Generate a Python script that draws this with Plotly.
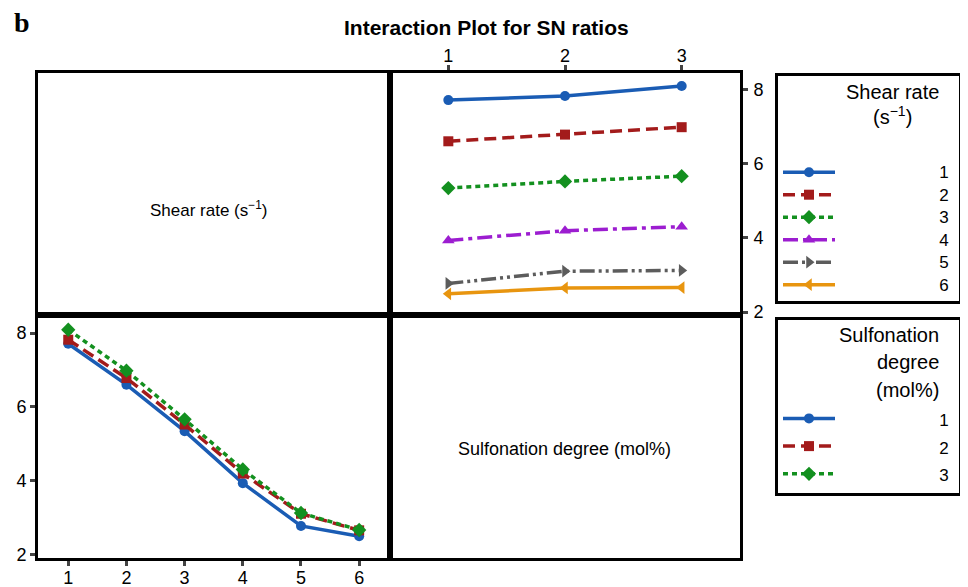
import plotly.graph_objects as go

# ---- data ----
shear_rates = [1, 2, 3, 4, 5, 6]          # Shear rate levels (s^-1)
sulf_degrees = [1, 2, 3]                  # Sulfonation degree levels (mol%)
# SN ratio, rows = sulfonation degree, columns = shear rate
sn_sulf1 = [7.71, 6.60, 5.34, 3.93, 2.77, 2.49]
sn_sulf2 = [7.82, 6.78, 5.52, 4.19, 3.10, 2.65]
sn_sulf3 = [8.09, 6.98, 5.66, 4.30, 3.12, 2.66]
sn_rows = [sn_sulf1, sn_sulf2, sn_sulf3]
tick_vals_y = [2, 4, 6, 8]

title_text = "Interaction Plot for SN ratios"
panel_label = "b"
legend1_title = ["Shear rate", "(s<sup>\u22121</sup>)"]
legend2_title = ["Sulfonation", "degree", "(mol%)"]
caption_tl = "Shear rate (s<sup>\u22121</sup>)"
caption_br = "Sulfonation degree (mol%)"

colors = ["#1A5CB4", "#A31B1B", "#13901F", "#9C1DD0", "#5C5C5C", "#E8950F"]
symbols = ["circle", "square", "diamond", "triangle-up", "triangle-right", "triangle-left"]
dashes = ["solid", "12px,6px", "5px,4px", "15px,5px,4px,5px", "15px,4px,3px,4px,3px,4px", "solid"]
msize = [10, 10, 11, 11, 11, 11]

W, H = 968, 587
OFF = 8  # page body margin


def px(x):
    return (x - OFF) / W


def py(y):
    return 1 - (y - OFF) / H


FS = "\u2007"
PS = "\u2008"


def lname(v):
    return "<span style='font-size:17px'>" + FS * 10 + PS + str(v) + PS + "</span>"


fig = go.Figure()

# Top-right panel: one line per shear rate, x = sulfonation degree
for j, sr in enumerate(shear_rates):
    yvals = [row[j] for row in sn_rows]
    fig.add_trace(go.Scatter(
        x=sulf_degrees, y=yvals, xaxis="x2", yaxis="y2",
        mode="lines+markers", name=lname(sr), legend="legend",
        line=dict(color=colors[j], width=3.5, dash=dashes[j]),
        marker=dict(symbol=symbols[j], size=msize[j], color=colors[j]),
    ))

# Bottom-left panel: one line per sulfonation degree, x = shear rate
for i, sd in enumerate(sulf_degrees):
    fig.add_trace(go.Scatter(
        x=shear_rates, y=sn_rows[i], xaxis="x3", yaxis="y3",
        mode="lines+markers", name=lname(sd), legend="legend2",
        line=dict(color=colors[i], width=3.5, dash=dashes[i]),
        marker=dict(symbol=symbols[i], size=msize[i], color=colors[i]),
    ))

X_L, X_M, X_R = 38, 390, 740
Y_T, Y_M, Y_B = 73, 315, 558
xl, xm, xr = px(X_L), px(X_M), px(X_R)
yt, ymid, yb = py(Y_T), py(Y_M), py(Y_B)

frame = dict(showline=True, linewidth=3, linecolor="black", mirror=True,
             showgrid=False, zeroline=False, automargin=False)
tickfont = dict(family="Liberation Sans, Arial, sans-serif", size=18, color="black")
BLANK = "\u00a0<br>\u00a0<br>\u00a0"

fig.update_layout(
    width=W, height=H,
    margin=dict(l=0, r=0, t=0, b=0, autoexpand=False),
    paper_bgcolor="white", plot_bgcolor="white",
    font=dict(family="Liberation Sans, Arial, sans-serif", color="black"),
    # top-left (empty)
    xaxis=dict(domain=[xl, xm], anchor="y", range=[0, 1], showticklabels=False, ticks="", **frame),
    yaxis=dict(domain=[ymid, yt], anchor="x", range=[0, 1], showticklabels=False, ticks="", **frame),
    # top-right
    xaxis2=dict(domain=[xm, xr], anchor="y2", range=[0.5, 3.5], side="top",
                tickvals=sulf_degrees, ticks="outside", ticklen=5, tickwidth=3,
                ticklabelstandoff=-4,
                tickfont=dict(family="Liberation Sans Narrow, Arial Narrow, sans-serif", size=18, color="black"),
                **frame),
    yaxis2=dict(domain=[ymid, yt], anchor="x2", range=[1.92, 8.44], side="right",
                tickvals=tick_vals_y, ticks="outside", ticklen=5, tickwidth=3,
                ticklabelstandoff=2,
                tickfont=tickfont, **frame),
    # bottom-left
    xaxis3=dict(domain=[xl, xm], anchor="y3", range=[0.48, 6.53],
                tickvals=shear_rates, ticks="outside", ticklen=5, tickwidth=3,
                ticklabelstandoff=-4,
                tickfont=tickfont, **frame),
    yaxis3=dict(domain=[yb, ymid], anchor="x3", range=[1.90, 8.49],
                tickvals=tick_vals_y, ticks="outside", ticklen=5, tickwidth=3,
                tickfont=tickfont, **frame),
    # bottom-right (empty)
    xaxis4=dict(domain=[xm, xr], anchor="y4", range=[0, 1], showticklabels=False, ticks="", **frame),
    yaxis4=dict(domain=[yb, ymid], anchor="x4", range=[0, 1], showticklabels=False, ticks="", **frame),
    legend=dict(
        x=px(775), y=py(73), xanchor="left", yanchor="top",
        bordercolor="black", borderwidth=3, bgcolor="white",
        font=dict(size=15, color="black"),
        title=dict(text=BLANK, font=dict(size=20.5, color="black")),
        itemwidth=52, tracegroupgap=0,
    ),
    legend2=dict(
        x=px(775), y=py(317), xanchor="left", yanchor="top",
        bordercolor="black", borderwidth=3, bgcolor="white",
        font=dict(size=19, color="black"),
        title=dict(text=BLANK, font=dict(size=20.4, color="black")),
        itemwidth=52, tracegroupgap=0,
    ),
    showlegend=True,
)

# empty-panel captions (referenced to the empty panels' own axes so they are drawn)
fig.add_annotation(text=caption_tl, xref="x", yref="y",
                   x=(208.5 - X_L) / (X_M - X_L), y=(Y_M - 209) / (Y_M - Y_T),
                   xanchor="center", yanchor="middle",
                   showarrow=False, font=dict(size=17, color="black"))
fig.add_annotation(text=caption_br, xref="x4", yref="y4",
                   x=(564 - X_M) / (X_R - X_M), y=(Y_B - 449) / (Y_B - Y_M),
                   xanchor="center", yanchor="middle",
                   showarrow=False, font=dict(size=18, color="black"))
# legend titles
for txt, yy in zip(legend1_title, [92, 115]):
    fig.add_annotation(text=txt, xref="paper", yref="paper", x=px(892), y=py(yy),
                       xanchor="center", yanchor="middle", showarrow=False,
                       font=dict(size=20, color="black"))
for txt, yy in zip(legend2_title, [335, 362, 390]):
    fig.add_annotation(text=txt, xref="paper", yref="paper", x=px(941), y=py(yy),
                       xanchor="right", yanchor="middle", showarrow=False,
                       font=dict(size=20, color="black"))
# title and panel label
fig.add_annotation(text="<b>" + title_text + "</b>", xref="paper", yref="paper",
                   x=px(486), y=py(27), xanchor="center", yanchor="middle", showarrow=False,
                   font=dict(family="Liberation Sans Narrow, Arial Narrow, sans-serif", size=21, color="black"))
fig.add_annotation(text="<b>" + panel_label + "</b>", xref="paper", yref="paper",
                   x=px(22), y=py(22), xanchor="center", yanchor="middle", showarrow=False,
                   font=dict(family="Liberation Serif, Times New Roman, serif", size=28, color="black"))

fig.write_html("out.html")
